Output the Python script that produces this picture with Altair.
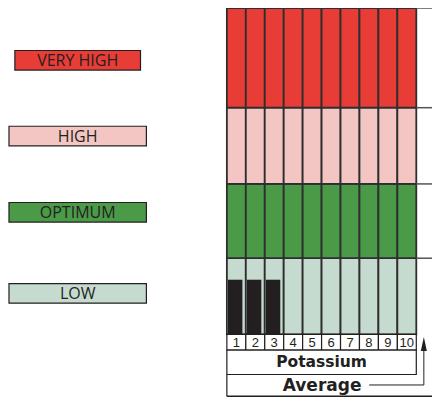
import altair as alt
import pandas as pd

# ---------------- data ----------------
bands = ["LOW", "OPTIMUM", "HIGH", "VERY HIGH"]
band_bottom = [0, 78, 154, 232]
band_top = [78, 154, 232, 334]
band_colors = ["#c6dbcf", "#4a9a48", "#f3c6c3", "#e83d37"]

columns = [1, 2, 3, 4, 5, 6, 7, 8, 9, 10]
bar_columns = [1, 2, 3]
bar_values = [56, 56, 56]

nutrient = "Potassium"
level_text = "Average"

# ---------------- layout (reference pixels -> scale units) ----------------
GRID_LEFT_PX, COL_W_PX = 231.0, 19.3


def cx(px):
    return (px - GRID_LEFT_PX) / COL_W_PX


W, H = 424, 389
XMIN, XMAX = cx(8), cx(440)
YMIN, YMAX = -64, 334
xs = alt.Scale(domain=[XMIN, XMAX], nice=False, zero=False)
ys = alt.Scale(domain=[YMIN, YMAX], nice=False, zero=False)
cscale = alt.Scale(domain=bands, range=band_colors)

X = lambda f: alt.X(f, type="quantitative", scale=xs, axis=None)
Y = lambda f: alt.Y(f, type="quantitative", scale=ys, axis=None)
X2 = lambda f: alt.X2(f)
Y2 = lambda f: alt.Y2(f)

DARK = "#231f20"
GRID = "#2e2e2e"

# band cells
cells = []
for b, lo, hi in zip(bands, band_bottom, band_top):
    for c in columns:
        cells.append({"band": b, "x0": c - 1, "x1": c, "y0": lo, "y1": hi})
cells = pd.DataFrame(cells)
cell_layer = alt.Chart(cells).mark_rect(stroke=GRID, strokeWidth=1.8).encode(
    x=X("x0"), x2=X2("x1"), y=Y("y0"), y2=Y2("y1"),
    color=alt.Color("band:N", scale=cscale, legend=None),
)

# black bars
bars = pd.DataFrame({
    "x0": [c - 1 + 0.06 for c in bar_columns],
    "x1": [c - 1 + 0.82 for c in bar_columns],
    "v": bar_values,
    "base": [0] * len(bar_columns),
})
bar_layer = alt.Chart(bars).mark_rect(color=DARK).encode(
    x=X("x0"), x2=X2("x1"), y=Y("base"), y2=Y2("v")
)

# boundary lines extending to the right
ext = pd.DataFrame({"y": band_top, "x0": [10] * 4, "x1": [XMAX] * 4})
ext_layer = alt.Chart(ext).mark_rule(color="#555555", strokeWidth=1.5).encode(
    x=X("x0"), x2=X2("x1"), y=Y("y")
)

# number cells
nums = pd.DataFrame({
    "n": [str(c) for c in columns],
    "x0": [c - 1 for c in columns],
    "x1": columns,
    "xm": [c - 0.5 for c in columns],
    "y0": [-16] * 10,
    "y1": [0] * 10,
    "ym": [-8] * 10,
})
num_rect = alt.Chart(nums).mark_rect(fill="white", stroke=DARK, strokeWidth=1.2).encode(
    x=X("x0"), x2=X2("x1"), y=Y("y0"), y2=Y2("y1")
)
num_text = alt.Chart(nums).mark_text(
    font="Liberation Sans", fontSize=13, color=DARK, baseline="middle", dy=0.5
).encode(x=X("xm"), y=Y("ym"), text="n:N")

# Potassium box
pot = pd.DataFrame({"t": [nutrient], "x0": [0], "x1": [10], "y0": [-41], "y1": [-16],
                    "xm": [5], "ym": [-28.5]})
pot_rect = alt.Chart(pot).mark_rect(fill="white", stroke=DARK, strokeWidth=1.2).encode(
    x=X("x0"), x2=X2("x1"), y=Y("y0"), y2=Y2("y1")
)
pot_text = alt.Chart(pot).mark_text(
    font="DejaVu Sans", fontWeight="bold", fontSize=15.5, color=DARK, baseline="middle"
).encode(x=X("xm"), y=Y("ym"), text="t:N")

# Average box: left border, bottom line, text, arrow
avg_lines = pd.DataFrame({
    "x0": [0, 0, cx(376), cx(431.7)],
    "x1": [0, XMAX, cx(431.7), cx(431.7)],
    "y0": [-63.3, -63.3, 340 - 391.7, 340 - 391.7],
    "y1": [-41, -63.3, 340 - 391.7, 340 - 352],
    "w": [1.2, 1.4, 1.0, 1.0],
})
avg_rule = alt.Chart(avg_lines).mark_rule(color=DARK).encode(
    x=X("x0"), x2=X2("x1"), y=Y("y0"), y2=Y2("y1"),
    strokeWidth=alt.StrokeWidth("w:Q", scale=None),
)
avg = pd.DataFrame({"t": [level_text], "xm": [cx(328)], "ym": [340 - 393]})
avg_text = alt.Chart(avg).mark_text(
    font="DejaVu Sans", fontWeight="bold", fontSize=17, color=DARK, baseline="middle"
).encode(x=X("xm"), y=Y("ym"), text="t:N")
arrow = pd.DataFrame({"xm": [cx(431.7)], "ym": [340 - 349.7]})
arrow_layer = alt.Chart(arrow).mark_point(
    shape="M0,-1L0.43,1L-0.43,1Z", filled=True, color=DARK, size=196, opacity=1
).encode(x=X("xm"), y=Y("ym"))

# left label boxes
label_center_y = [42, 125, 203, 280.5]
label_x0 = [cx(9), cx(9), cx(9), cx(15)]
label_x1 = [cx(149), cx(149), cx(149), cx(143)]
labels = pd.DataFrame({
    "band": bands,
    "x0": label_x0, "x1": label_x1,
    "xm": [cx(79)] * 4,
    "y0": [c - 10 for c in label_center_y],
    "y1": [c + 10 for c in label_center_y],
    "ym": label_center_y,
})
lab_rect = alt.Chart(labels).mark_rect(stroke=DARK, strokeWidth=1.2).encode(
    x=X("x0"), x2=X2("x1"), y=Y("y0"), y2=Y2("y1"),
    color=alt.Color("band:N", scale=cscale, legend=None),
)
lab_text = alt.Chart(labels).mark_text(
    font="Open Sans", fontSize=16, color=DARK, baseline="middle", dy=0.5
).encode(x=X("xm"), y=Y("ym"), text="band:N")

chart = alt.layer(
    cell_layer, bar_layer, ext_layer, num_rect, num_text, pot_rect, pot_text,
    avg_rule, avg_text, arrow_layer, lab_rect, lab_text,
).properties(
    width=W, height=H,
    padding=0,
    autosize=alt.AutoSizeParams(type="none"),
).configure_view(stroke=None)

chart.save("out.html", embed_options={"renderer": "svg", "actions": False})
